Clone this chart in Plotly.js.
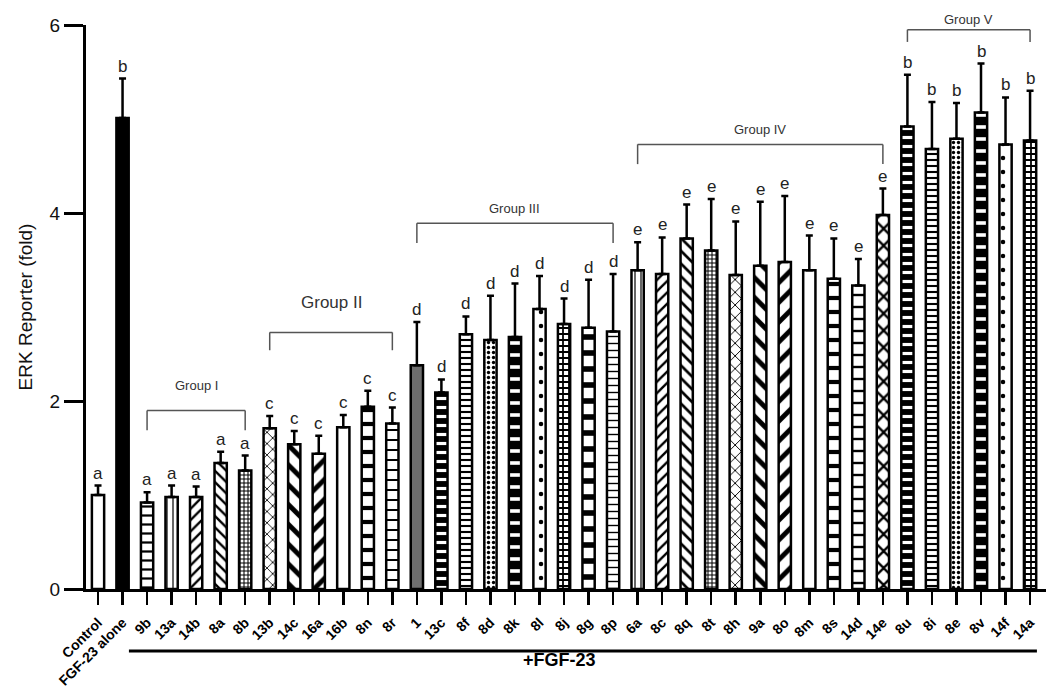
<!DOCTYPE html>
<html>
<head>
<meta charset="utf-8">
<script src="https://cdn.plot.ly/plotly-3.0.1.min.js"></script>
<style>html,body{margin:0;padding:0;background:#fff;}#chart{width:1050px;height:694px;}</style>
</head>
<body>
<div id="chart"></div>
<script>
// ---- data ----
var categories = ["Control","FGF-23 alone","9b","13a","14b","8a","8b","13b","14c","16a","16b","8n","8r",
  "1","13c","8f","8d","8k","8l","8j","8g","8p",
  "6a","8c","8q","8t","8h","9a","8o","8m","8s","14d","14e",
  "8u","8i","8e","8v","14f","14a"];
var values = [1.00,5.01,0.92,0.98,0.98,1.34,1.26,1.71,1.54,1.44,1.72,1.94,1.76,
  2.38,2.09,2.71,2.65,2.68,2.98,2.82,2.78,2.74,
  3.39,3.35,3.73,3.60,3.34,3.44,3.48,3.39,3.30,3.23,3.98,
  4.92,4.68,4.79,5.07,4.73,4.77];
var errors = [0.10,0.42,0.11,0.12,0.11,0.12,0.16,0.13,0.14,0.19,0.13,0.17,0.17,
  0.46,0.14,0.19,0.47,0.57,0.35,0.27,0.51,0.61,
  0.30,0.39,0.36,0.55,0.57,0.68,0.70,0.37,0.43,0.28,0.28,
  0.55,0.50,0.38,0.52,0.50,0.53];
var sigLetters = ["a","b","a","a","a","a","a","c","c","c","c","c","c",
  "d","d","d","d","d","d","d","d","d",
  "e","e","e","e","e","e","e","e","e","e","e",
  "b","b","b","b","b","b"];
var groupNames = ["Group I","Group II","Group III","Group IV","Group V"];
var groupStart = ["9b","13b","1","6a","8u"];
var groupEnd   = ["8b","8r","8p","14e","14a"];
var yTicks = [0,2,4,6];
var treatmentLabel = "+FGF-23";

// ---- styles (not data) ----
var patShape = ["","-","-","|","/","\\","+","x","\\","/","","-","-",
  "-","-","-",".","-",".","+","-","-",
  "|","/","\\","+","x","\\","/","","-","-","x",
  "-","-",".","-",".","+"];
var patBg = ["#ffffff","#000000","#ffffff","#ffffff","#ffffff","#ffffff","#ffffff","#ffffff","#ffffff","#ffffff","#ffffff","#ffffff","#ffffff",
  "#6e6e6e","#000000","#ffffff","#ffffff","#000000","#ffffff","#ffffff","#ffffff","#ffffff",
  "#ffffff","#ffffff","#ffffff","#ffffff","#ffffff","#ffffff","#ffffff","#ffffff","#ffffff","#ffffff","#ffffff",
  "#000000","#ffffff","#ffffff","#000000","#ffffff","#ffffff"];
var patFg = ["#000000","#000000","#000000","#000000","#000000","#000000","#000000","#000000","#000000","#000000","#000000","#000000","#000000",
  "#6e6e6e","#ffffff","#000000","#000000","#ffffff","#000000","#000000","#000000","#000000",
  "#000000","#000000","#000000","#000000","#000000","#000000","#000000","#000000","#000000","#000000","#000000",
  "#ffffff","#000000","#000000","#ffffff","#000000","#000000"];
var patSize = [8,8,9,6,8,8,4,8,14,14,8,14,10,
  8,9,6,5,12,14,6,16,7,
  6,8,9,4,9,14,14,8,14,12,12,
  9,6,5,12,14,6];
var patSol = [0.3,0.3,0.25,0.2,0.3,0.3,0.45,0.2,0.35,0.35,0.3,0.3,0.2,
  0.3,0.35,0.35,0.35,0.3,0.08,0.5,0.35,0.2,
  0.2,0.3,0.3,0.45,0.2,0.35,0.35,0.3,0.3,0.2,0.35,
  0.35,0.35,0.35,0.3,0.08,0.5];

var FONT = "Arial, 'Liberation Sans', sans-serif";
var xIdx = categories.map(function(c,i){return i;});

var trace = {
  type: "bar",
  x: xIdx,
  y: values,
  width: 0.5,
  marker: {
    color: "#ffffff",
    line: {color: "#000", width: 2.5},
    pattern: {shape: patShape, bgcolor: patBg, fgcolor: patFg, size: patSize, solidity: patSol}
  },
  error_y: {type: "data", symmetric: false, array: errors, arrayminus: errors.map(function(){return 0;}),
            color: "#000", thickness: 2.5, width: 3.5}
};

var annotations = [];
var shapes = [];
values.forEach(function(v,i){
  annotations.push({x: i, y: v + errors[i], xref: "x", yref: "y", text: sigLetters[i], showarrow: false,
    yanchor: "bottom", yshift: 1, font: {family: FONT, size: 17, color: "#222"}});
});

var bracketY = [1.90, 2.73, 3.89, 4.73, 5.95];
var legDrop = [0.21, 0.19, 0.21, 0.21, 0.13];
var labelY = [2.16, 3.05, 4.15, 4.99, 6.16];
var labelSize = [13, 17, 13, 13, 13];
groupNames.forEach(function(g,k){
  var a = categories.indexOf(groupStart[k]), b = categories.indexOf(groupEnd[k]);
  var yy = bracketY[k], yl = yy - legDrop[k];
  var ln = {color: "#555", width: 1.5};
  shapes.push({type:"line", xref:"x", yref:"y", x0:a, x1:b, y0:yy, y1:yy, line: ln});
  shapes.push({type:"line", xref:"x", yref:"y", x0:a, x1:a, y0:yy, y1:yl, line: ln});
  shapes.push({type:"line", xref:"x", yref:"y", x0:b, x1:b, y0:yy, y1:yl, line: ln});
  annotations.push({x:(a+b)/2, y: labelY[k] / 6, xref:"x", yref:"paper", text: g, showarrow:false,
    font:{family: FONT, size: labelSize[k], color:"#333"}});
});

shapes.push({type:"line", xref:"x", yref:"paper", x0:1.26, x1:38.28, y0:-0.11, y1:-0.11, line:{color:"#000", width:3}});
annotations.push({x:18.83, y:-0.147, xref:"x", yref:"paper", text:"<b>"+treatmentLabel+"</b>", showarrow:false,
  font:{family: FONT, size:18, color:"#000"}});

var layout = {
  width: 1050, height: 694,
  margin: {l: 86, r: 4, t: 25, b: 105},
  paper_bgcolor: "#fff", plot_bgcolor: "#fff",
  showlegend: false,
  font: {family: FONT, color: "#000"},
  xaxis: {
    range: [-0.49, 38.65], tickmode: "array", tickvals: xIdx, ticktext: categories,
    tickangle: -45, tickfont: {family: FONT, size: 14, color: "#000", weight: "bold"},
    ticklabelstandoff: 4,
    showline: true, linecolor: "#000", linewidth: 3, ticks: "outside", ticklen: 13, tickwidth: 2.5, tickcolor: "#000",
    showgrid: false, zeroline: false, fixedrange: true
  },
  yaxis: {
    range: [0, 6], tickmode: "array", tickvals: yTicks,
    tickfont: {family: FONT, size: 19, color: "#111"},
    showline: true, linecolor: "#000", linewidth: 3, ticks: "outside", ticklen: 19, tickwidth: 3, tickcolor: "#000",
    showgrid: false, zeroline: false,
    title: {text: "ERK Reporter (fold)", font: {family: FONT, size: 19, color: "#111"}, standoff: 12}
  },
  shapes: shapes,
  annotations: annotations
};

Plotly.newPlot("chart", [trace], layout, {displayModeBar: false, staticPlot: true});
</script>
</body>
</html>
